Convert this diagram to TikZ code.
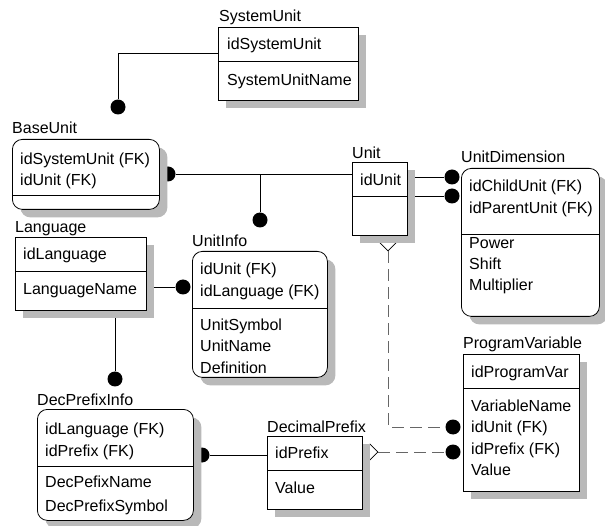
\documentclass[tikz,border=0pt]{standalone}
\usepackage{fontspec}
\setmainfont{Liberation Sans}
\usetikzlibrary{shadows,shapes.geometric}
\pgfdeclarelayer{bg}
\pgfsetlayers{bg,main}
\tikzset{
 entity/.style={draw, fill=white, line width=0.8pt, inner sep=0pt, anchor=north west,
  drop shadow={shadow xshift=8pt, shadow yshift=-8pt, fill=gray!55, opacity=1}},
 depent/.style={entity, rounded corners=10pt},
 etitle/.style={anchor=west, inner sep=0pt, text height=11.5pt, text depth=0pt, font=\fontsize{16}{19}\selectfont},
 attr/.style={etitle},
 rel/.style={line width=0.8pt},
 nrel/.style={line width=0.9pt, gray!80!black, dash pattern=on 12pt off 6pt},
 fkdot/.style={circle, fill=black, inner sep=0pt, minimum size=15pt},
 nulldmd/.style={diamond, draw, fill=white, inner sep=0pt, minimum size=16pt, line width=0.8pt}
}
\begin{document}
\begin{tikzpicture}[x=1pt,y=-1pt]
 \useasboundingbox (0,0) rectangle (605,526);
 % entities
 \node[etitle] (sysunitT) at (219,16) {SystemUnit};
 \node[entity, minimum width=140pt, minimum height=73pt] (sysunit) at (218,27) {};
 \draw[rel] (218,61) -- (358,61);
 \node[attr] (sysunitA) at (227,44) {idSystemUnit};
 \node[attr] (sysunitB) at (227,80) {SystemUnitName};

 \node[etitle] (baseunitT) at (12,128) {BaseUnit};
 \node[depent, minimum width=147pt, minimum height=70pt] (baseunit) at (12,139) {};
 \draw[rel] (12,195) -- (159,195);
 \node[attr] (baseunitA) at (20,159) {idSystemUnit (FK)};
 \node[attr] (baseunitB) at (20,180) {idUnit (FK)};

 \node[etitle] (unitT) at (352,153) {Unit};
 \node[entity, minimum width=55pt, minimum height=73pt] (unit) at (352,162) {};
 \draw[rel] (352,196) -- (407,196);
 \node[attr] (unitA) at (360,180) {idUnit};

 \node[etitle] (unitdimT) at (461,157) {UnitDimension};
 \node[depent, minimum width=138pt, minimum height=148pt] (unitdim) at (461,168) {};
 \draw[rel] (461,234) -- (599,234);
 \node[attr] (unitdimA) at (469,186) {idChildUnit (FK)};
 \node[attr] (unitdimB) at (469,208) {idParentUnit (FK)};
 \node[attr] (unitdimC) at (469,243) {Power};
 \node[attr] (unitdimD) at (469,264) {Shift};
 \node[attr] (unitdimE) at (469,285) {Multiplier};

 \node[etitle] (langT) at (15,227) {Language};
 \node[entity, minimum width=131pt, minimum height=73pt] (lang) at (15,237) {};
 \draw[rel] (15,271) -- (146,271);
 \node[attr] (langA) at (23,254) {idLanguage};
 \node[attr] (langB) at (23,289) {LanguageName};

 \node[etitle] (unitinfoT) at (192,241) {UnitInfo};
 \node[depent, minimum width=135pt, minimum height=126pt] (unitinfo) at (192,251) {};
 \draw[rel] (192,308) -- (327,308);
 \node[attr] (unitinfoA) at (200,269) {idUnit (FK)};
 \node[attr] (unitinfoB) at (200,291) {idLanguage (FK)};
 \node[attr] (unitinfoC) at (200,325) {UnitSymbol};
 \node[attr] (unitinfoD) at (200,346) {UnitName};
 \node[attr] (unitinfoE) at (200,368) {Definition};

 \node[etitle] (progvarT) at (463,343) {ProgramVariable};
 \node[entity, minimum width=116pt, minimum height=137pt] (progvar) at (463,354) {};
 \draw[rel] (463,388) -- (579,388);
 \node[attr] (progvarA) at (471,372) {idProgramVar};
 \node[attr] (progvarB) at (471,406) {VariableName};
 \node[attr] (progvarC) at (471,427) {idUnit (FK)};
 \node[attr] (progvarD) at (471,449) {idPrefix (FK)};
 \node[attr] (progvarE) at (471,470) {Value};

 \node[etitle] (decpfxT) at (267,427) {DecimalPrefix};
 \node[entity, minimum width=95pt, minimum height=73pt] (decpfx) at (267,436) {};
 \draw[rel] (267,470) -- (362,470);
 \node[attr] (decpfxA) at (275,453) {idPrefix};
 \node[attr] (decpfxB) at (275,488) {Value};

 \node[etitle] (dpinfoT) at (37,400) {DecPrefixInfo};
 \node[depent, minimum width=156pt, minimum height=111pt] (dpinfo) at (37,409) {};
 \draw[rel] (37,466) -- (193,466);
 \node[attr] (dpinfoA) at (45,429) {idLanguage (FK)};
 \node[attr] (dpinfoB) at (45,451) {idPrefix (FK)};
 \node[attr] (dpinfoC) at (45,482) {DecPefixName};
 \node[attr] (dpinfoD) at (45,506) {DecPrefixSymbol};

 % relationships
 \begin{pgfonlayer}{bg}
  \node[fkdot] (dotBU) at (118,107) {};
  \node[fkdot] (dotUB) at (168,174) {};
  \node[fkdot] (dotUI) at (260,220) {};
  \node[fkdot] (dotUD1) at (452,177) {};
  \node[fkdot] (dotUD2) at (452,196) {};
  \node[fkdot] (dotLU) at (183,287) {};
  \node[fkdot] (dotLD) at (115,379) {};
  \node[fkdot] (dotDP) at (202,455) {};
  \node[fkdot] (dotPV1) at (453,427) {};
  \node[fkdot] (dotPV2) at (453,452) {};
  \node[nulldmd] (dmdU) at (388,243) {};
  \node[nulldmd] (dmdP) at (370,452) {};

  \draw[rel] ([yshift=10.5pt]sysunit.west) -| (dotBU);
  \draw[rel] (dotUB) -- (unit.west |- dotUB);
  \draw[rel] (dotUI) -- (dotUI |- dotUB);
  \draw[rel] (unit.east |- dotUD1) -- (dotUD1);
  \draw[rel] (unit.east |- dotUD2) -- (dotUD2);
  \draw[rel] (lang.east |- dotLU) -- (dotLU);
  \draw[rel] (lang.south -| dotLD) -- (dotLD);
  \draw[rel] (decpfx.west |- dotDP) -- (dotDP);
  \draw[nrel] (dmdU) -- (dmdU |- dotPV1) -- (dotPV1);
  \draw[nrel] (dmdP) -- (dotPV2);
 \end{pgfonlayer}
\end{tikzpicture}
\end{document}
